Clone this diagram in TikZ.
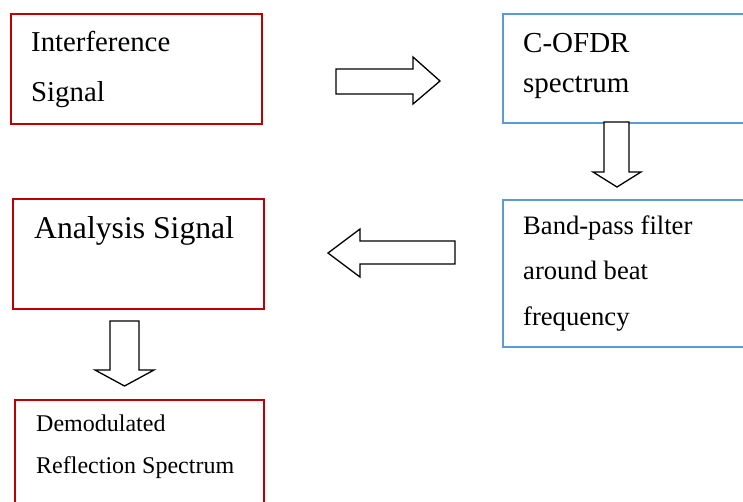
\documentclass[tikz,border=0pt]{standalone}
\usepackage{fontspec}
\setmainfont{Liberation Serif}
\definecolor{boxred}{RGB}{192,0,0}
\definecolor{boxblue}{RGB}{91,155,213}
\tikzset{
  redbox/.style={draw=boxred, line width=1.7pt, anchor=north west, inner sep=0pt},
  bluebox/.style={draw=boxblue, line width=1.5pt, anchor=north west, inner sep=0pt},
  boxtext/.style={anchor=base west, inner sep=0pt, align=left, text=black},
  blockarrow/.style={draw=black, fill=white, line width=1.3pt, line join=miter},
}
\begin{document}
\begin{tikzpicture}[x=1pt, y=-1pt]
  \clip (0,0) rectangle (743,501);
  \fill[white] (0,0) rectangle (743,501);

  % process boxes
  \node[redbox, minimum width=251pt, minimum height=110pt] (sig) at (10,13) {};
  \node[bluebox, minimum width=260pt, minimum height=109pt] (spec) at (502,13) {};
  \node[bluebox, minimum width=260pt, minimum height=147pt] (bpf) at (502,199) {};
  \node[redbox, minimum width=251pt, minimum height=110pt] (ana) at (12,198) {};
  \node[redbox, minimum width=249pt, minimum height=130pt] (demod) at (14,399) {};

  % box labels (placed by the baseline of their last line)
  \node[boxtext, font={\fontsize{28.8pt}{50pt}\selectfont}] (sigtxt) at (31,101) {Interference\\Signal};
  \node[boxtext, font={\fontsize{29pt}{40pt}\selectfont}] (spectxt) at (523,92) {C-OFDR\\spectrum};
  \node[boxtext, font={\fontsize{26.6pt}{45.5pt}\selectfont}] (bpftxt) at (523,325) {Band-pass filter\\around beat\\frequency};
  \node[boxtext, font={\fontsize{31.7pt}{38pt}\selectfont}] (anatxt) at (34,238) {Analysis Signal};
  \node[boxtext, font={\fontsize{24pt}{42pt}\selectfont}] (demodtxt) at (36,473) {Demodulated\\Reflection Spectrum};

  % hollow block arrows between the steps
  \draw[blockarrow] (336,69) -- (413,69) -- (413,57) -- (440,81) -- (413,104) -- (413,94) -- (336,94) -- cycle;
  \draw[blockarrow] (604,122) -- (604,172) -- (593,172) -- (617,187) -- (641,172) -- (629,172) -- (629,122) -- cycle;
  \draw[blockarrow] (455,241) -- (360,241) -- (360,229) -- (328,253) -- (360,277) -- (360,264) -- (455,264) -- cycle;
  \draw[blockarrow] (110,321) -- (110,370) -- (95,370) -- (124.5,386) -- (154,370) -- (139,370) -- (139,321) -- cycle;
\end{tikzpicture}
\end{document}
